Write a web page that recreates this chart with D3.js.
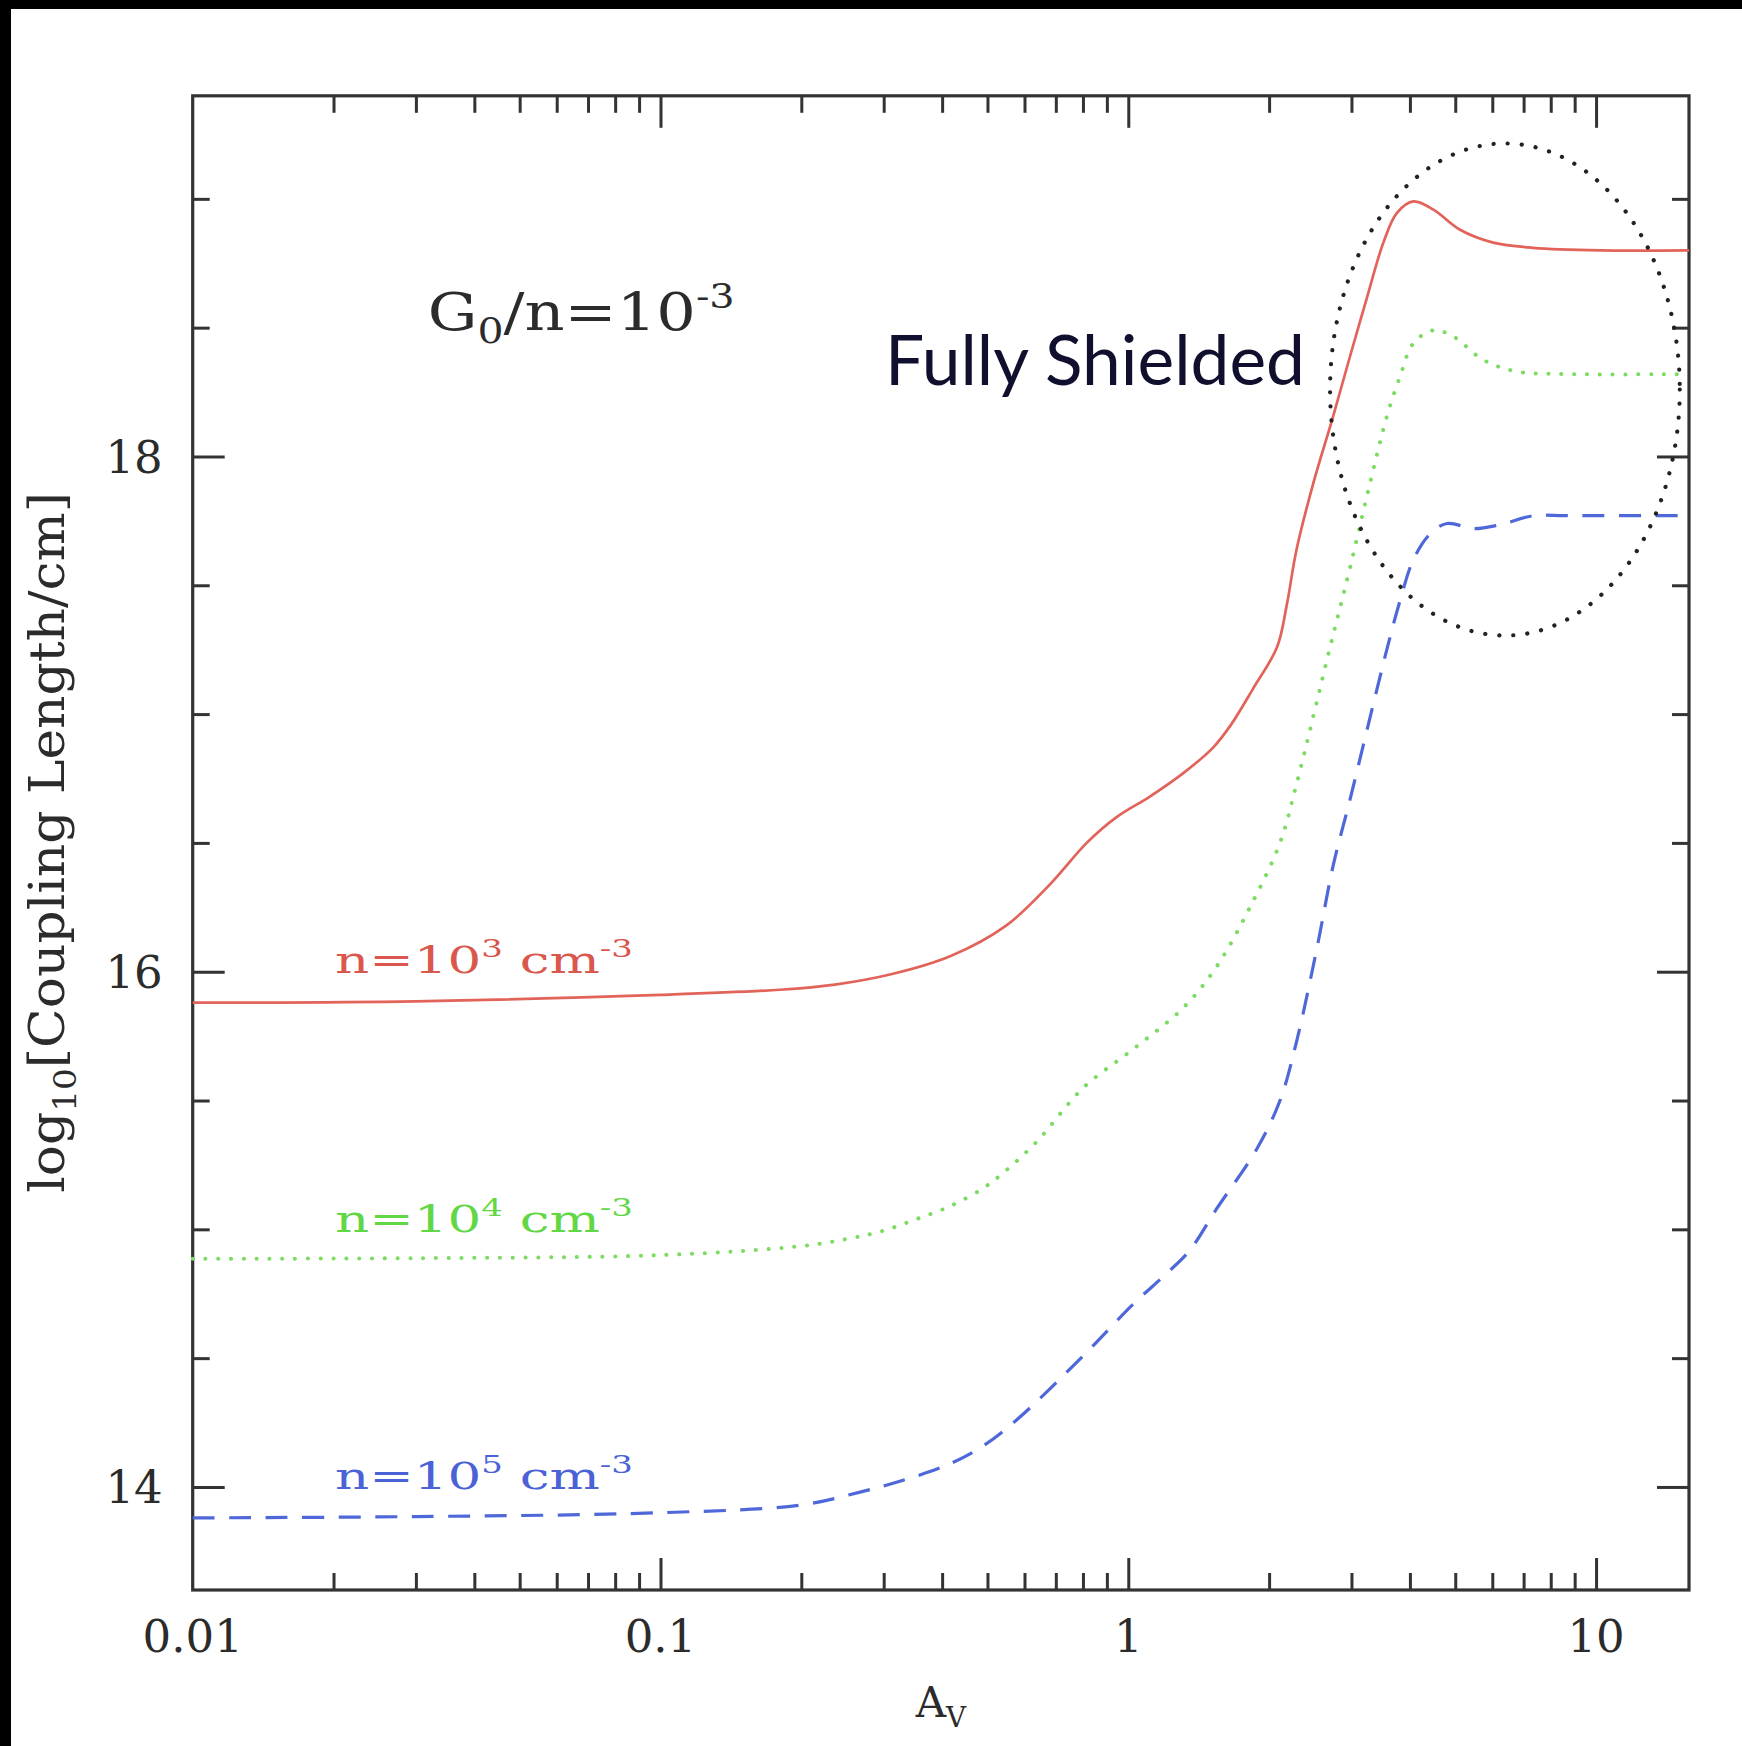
<!DOCTYPE html>
<html><head><meta charset="utf-8">
<script src="https://cdn.jsdelivr.net/npm/d3@7"></script>
<style>
html,body{margin:0;padding:0;background:#fff;}
svg{display:block;}
text{white-space:pre;}
</style></head><body>
<svg id="chart" width="1742" height="1746"></svg>
<script>
// ---------------- data ----------------
const avRed   = [0.01, 0.03, 0.1, 0.18, 0.236, 0.311, 0.416, 0.549, 0.681, 0.815, 0.944, 1.112, 1.309, 1.518, 1.66, 1.85, 2.08, 2.18, 2.29, 2.49, 2.74, 2.98, 3.23, 3.51, 3.75, 4.07, 4.49, 5.12, 6.03, 7.34, 10.2, 15.8];
const logRed  = [15.88, 15.885, 15.91, 15.93, 15.95, 15.99, 16.06, 16.18, 16.34, 16.50, 16.60, 16.68, 16.77, 16.87, 16.96, 17.10, 17.26, 17.42, 17.64, 17.90, 18.155, 18.39, 18.61, 18.83, 18.945, 18.99, 18.958, 18.88, 18.83, 18.81, 18.80, 18.80];

const avGreen  = [0.01, 0.03, 0.1, 0.2, 0.254, 0.3, 0.353, 0.416, 0.49, 0.549, 0.637, 0.802, 1.025, 1.311, 1.545, 1.82, 2.11, 2.29, 2.70, 2.98, 3.29, 3.57, 3.81, 4.07, 4.49, 4.95, 5.74, 6.76, 8.65, 15.8];
const logGreen = [14.886, 14.888, 14.90, 14.935, 14.965, 14.995, 15.04, 15.09, 15.16, 15.23, 15.34, 15.55, 15.70, 15.86, 16.02, 16.25, 16.50, 16.73, 17.26, 17.57, 17.90, 18.155, 18.31, 18.44, 18.49, 18.466, 18.375, 18.33, 18.32, 18.32];

const avBlue  = [0.01, 0.03, 0.1, 0.2, 0.267, 0.336, 0.416, 0.49, 0.577, 0.802, 1.025, 1.21, 1.355, 1.545, 1.88, 2.11, 2.29, 2.53, 2.74, 2.98, 3.57, 3.81, 4.07, 4.42, 4.80, 5.47, 6.23, 7.34, 8.65, 15.8];
const logBlue = [13.88, 13.885, 13.90, 13.93, 13.98, 14.03, 14.09, 14.16, 14.26, 14.51, 14.71, 14.83, 14.92, 15.08, 15.31, 15.50, 15.73, 16.09, 16.41, 16.67, 17.25, 17.44, 17.60, 17.70, 17.74, 17.72, 17.735, 17.77, 17.77, 17.77];

const xMajorTicks  = [0.01, 0.1, 1, 10];
const xTickLabels  = ["0.01", "0.1", "1", "10"];
const yMajorTicks  = [14, 16, 18];
const yTickLabels  = ["14", "16", "18"];
const yMinorTicks  = [14.5, 15, 15.5, 16.5, 17, 17.5, 18.5, 19];

const seriesNames  = ["n=10³ cm⁻³", "n=10⁴ cm⁻³", "n=10⁵ cm⁻³"];
const seriesSegs   = [
  [["n=10",""],["3","sup"],[" cm",""],["-3","sup"]],
  [["n=10",""],["4","sup"],[" cm",""],["-3","sup"]],
  [["n=10",""],["5","sup"],[" cm",""],["-3","sup"]]
];
const seriesLabelLogL = [15.994, 14.991, 13.992];
const ratioSegs   = [["G",""],["0","sub"],["/n=10",""],["-3","sup"]];
const shieldText  = "Fully Shielded";
const yTitleSegs  = [["log",""],["10","sub"],["[Coupling Length/cm]",""]];
const xTitleSegs  = [["A",""],["V","sub"]];
const ellipseAv   = [2.70, 15.1];
const ellipseLogL = [17.305, 19.215];

// ---------------- drawing ----------------
const svg = d3.select("#chart");
const W = 1742, H = 1746;
const L = 192.7, R = 1689, T = 95.8, B = 1590;
const x = d3.scaleLog().domain([0.01, 15.8]).range([L, R]);
const y = d3.scaleLinear().domain([13.6, 19.4]).range([B, T]);

svg.append("rect").attr("width", W).attr("height", H).attr("fill", "#fff");
svg.append("rect").attr("x",0).attr("y",0).attr("width", W).attr("height", 9).attr("fill", "#000");
svg.append("rect").attr("x",0).attr("y",0).attr("width", 11).attr("height", H).attr("fill", "#000");

const serif = "'DejaVu Serif', 'Liberation Serif', serif";
const axisColor = "#333";
const majorLen = 32, minorLen = 17;

const xMinor = x.ticks().filter(v => xMajorTicks.indexOf(v) < 0 && v > 0.01 && v < 15.8);

function drawAxis(axisFn, pos, values, len) {
  const g = svg.append("g").attr("transform", pos)
    .call(axisFn.tickValues(values).tickSize(-len).tickFormat(""));
  g.select(".domain").remove();
  g.selectAll(".tick line").attr("stroke", axisColor).attr("stroke-width", 3);
}
const xMaj = xMajorTicks.filter(v => v > 0.01);
drawAxis(d3.axisBottom(x), `translate(0,${B})`, xMaj, majorLen);
drawAxis(d3.axisBottom(x), `translate(0,${B})`, xMinor, minorLen);
drawAxis(d3.axisTop(x), `translate(0,${T})`, xMaj, majorLen);
drawAxis(d3.axisTop(x), `translate(0,${T})`, xMinor, minorLen);
drawAxis(d3.axisLeft(y), `translate(${L},0)`, yMajorTicks, majorLen);
drawAxis(d3.axisLeft(y), `translate(${L},0)`, yMinorTicks, minorLen);
drawAxis(d3.axisRight(y), `translate(${R},0)`, yMajorTicks, majorLen);
drawAxis(d3.axisRight(y), `translate(${R},0)`, yMinorTicks, minorLen);

svg.append("rect").attr("x", L).attr("y", T).attr("width", R - L).attr("height", B - T)
  .attr("fill", "none").attr("stroke", axisColor).attr("stroke-width", 3.2);

// tick labels
const tickFs = 45;
svg.append("g").selectAll("text").data(xMajorTicks).join("text")
  .attr("x", d => x(d)).attr("y", B + 62)
  .attr("text-anchor", "middle").attr("font-family", serif).attr("font-size", tickFs)
  .attr("fill", "#2b2b2b").text((d, i) => xTickLabels[i]);
svg.append("g").selectAll("text").data(yMajorTicks).join("text")
  .attr("x", L - 30).attr("y", d => y(d) + 0.36 * tickFs)
  .attr("text-anchor", "end").attr("font-family", serif).attr("font-size", tickFs)
  .attr("fill", "#2b2b2b").text((d, i) => yTickLabels[i]);

// rich text helper
function richText(parent, segs, fs, family, color, anchor) {
  const t = parent.append("text").attr("font-family", family).attr("font-size", fs)
    .attr("fill", color).attr("text-anchor", anchor || "start");
  let off = 0;
  segs.forEach(([s, k]) => {
    const target = k === "sup" ? -0.42 * fs : k === "sub" ? 0.24 * fs : 0;
    const ts = t.append("tspan").attr("dy", target - off).text(s);
    if (k === "sup") ts.attr("font-size", 0.64 * fs);
    if (k === "sub") ts.attr("font-size", 0.66 * fs);
    off = target;
  });
  return t;
}
function fitX(g, t, target) {
  const w = t.node().getBBox().width;
  t.attr("transform", `scale(${target / w},1)`);
}

// curves
const line = d3.line().x(d => x(d[0])).y(d => y(d[1])).curve(d3.curveCatmullRom.alpha(0.5));
const zip = (a, b) => a.map((v, i) => [v, b[i]]);

svg.append("path").datum(zip(avRed, logRed)).attr("d", line)
  .attr("fill", "none").attr("stroke", "#e2635a").attr("stroke-width", 2.7);
svg.append("path").datum(zip(avGreen, logGreen)).attr("d", line)
  .attr("fill", "none").attr("stroke", "#7cdb60").attr("stroke-width", 4)
  .attr("stroke-linecap", "round").attr("stroke-dasharray", "0.1 12.7");
svg.append("path").datum(zip(avBlue, logBlue)).attr("d", line)
  .attr("fill", "none").attr("stroke", "#4f68d9").attr("stroke-width", 3.2)
  .attr("stroke-dasharray", "22 14.5");

// ellipse
const ex0 = x(ellipseAv[0]), ex1 = x(ellipseAv[1]);
const ey0 = y(ellipseLogL[0]), ey1 = y(ellipseLogL[1]);
svg.append("ellipse")
  .attr("cx", (ex0 + ex1) / 2).attr("cy", (ey0 + ey1) / 2)
  .attr("rx", (ex1 - ex0) / 2).attr("ry", (ey0 - ey1) / 2)
  .attr("fill", "none").attr("stroke", "#222").attr("stroke-width", 4.2)
  .attr("stroke-linecap", "round").attr("stroke-dasharray", "0.1 14");

// series labels
const labelColors = ["#d9574c", "#62d746", "#4a62d6"];
seriesSegs.forEach((segs, i) => {
  const g = svg.append("g").attr("transform", `translate(${x(0.02) + 1.5},${y(seriesLabelLogL[i])})`)
    .attr("aria-label", seriesNames[i]);
  const t = richText(g, segs, 38, serif, labelColors[i]);
  fitX(g, t, 298);
});

// G0/n label
{
  const g = svg.append("g").attr("transform", `translate(${x(0.0318)},${y(18.49)})`);
  const t = richText(g, ratioSegs, 53, serif, "#2b2b2b");
  fitX(g, t, 307);
}
// Fully shielded
{
  const g = svg.append("g").attr("transform", `translate(${x(0.302)},${y(18.278)})`);
  const t = g.append("text").attr("font-family", "Lato, 'Open Sans', sans-serif")
    .attr("font-size", 70).attr("fill", "#10102e").text(shieldText);
  fitX(g, t, 420);
}
// axis titles
{
  const g = svg.append("g").attr("transform", `translate(${(L + R) / 2},${1717})`);
  richText(g, xTitleSegs, 42, serif, "#2b2b2b", "middle");
}
{
  const g = svg.append("g").attr("transform", `translate(64,${(T + B) / 2 - 0.5}) rotate(-90)`);
  const t = richText(g, yTitleSegs, 48, serif, "#2b2b2b", "middle");
  fitX(g, t, 701);
}
</script>
</body></html>
